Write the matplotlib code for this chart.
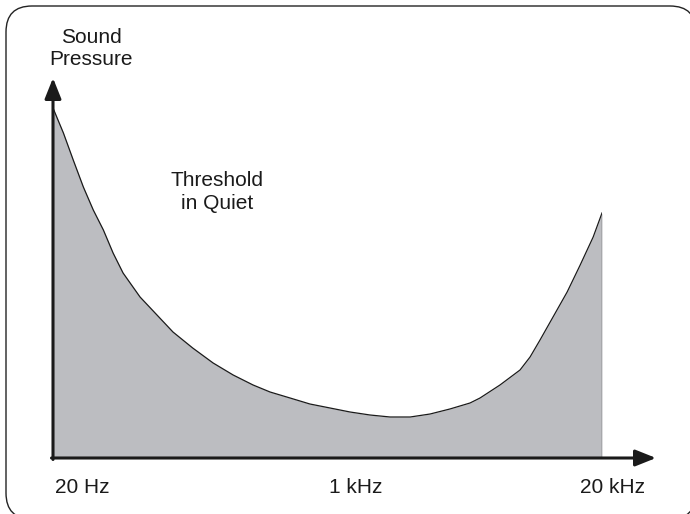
import numpy as np
import matplotlib
matplotlib.use('Agg')
from matplotlib import pyplot as plt
from matplotlib.patches import FancyBboxPatch

plt.rcParams['font.family'] = ['Liberation Sans', 'DejaVu Sans']

# threshold in quiet (level in arbitrary units)
freq_hz = [20, 22.8, 25.8, 29.3, 33.2, 37.7, 42.6, 48.3, 59.8, 74, 90.5,
           116, 150, 193, 248, 307, 395, 507, 653, 840, 1080, 1390, 1790,
           2300, 2950, 3800, 4310, 5540, 7130, 8090, 9170, 10800, 12900,
           15200, 17900, 20000]
level = [350, 325, 298, 271, 248, 228, 205, 185, 161, 143, 126,
         110, 95, 83, 73, 66, 60, 54, 50, 46, 43, 41, 41,
         44, 49, 55, 60, 73, 88, 101, 118, 141, 166,
         193, 221, 245]

tick_labels = ['20 Hz', '1 kHz', '20 kHz']
tick_label_x = [82, 356, 612]   # pixel centres

W, H = 690, 514
fig = plt.figure(figsize=(W/100, H/100), dpi=100)

# rounded frame in display pixels (origin bottom left), runs off right and bottom.
# white face so agg does not clip the curved corners at the canvas edge
frame = FancyBboxPatch((6, H - 519), 690, 513, boxstyle='round,pad=0,rounding_size=26',
                       fc='white', ec='#222222', lw=1.0, transform=None,
                       clip_on=False, zorder=1)
fig.add_artist(frame)

# overlay in pixel coordinates for arrows and text
over = fig.add_axes([0, 0, 1, 1], zorder=3)
over.set_xlim(0, W)
over.set_ylim(H, 0)
over.axis('off')
over.patch.set_alpha(0)

# data axes
ax = fig.add_axes([53/W, (H-458)/H, (602-53)/W, (458-108)/H], zorder=2)
ax.set_xscale('log')
ax.set_xlim(20, 20000)
ax.set_ylim(0, 350)
ax.axis('off')
ax.fill_between(freq_hz, level, 0, color='#bcbdc1', lw=0)
ax.plot(freq_hz, level, color='#1a1a1a', lw=0.9, solid_joinstyle='round')
ax.plot([freq_hz[-1], freq_hz[-1]], [0, level[-1]], color='#555555', lw=1.0)

# axis arrows
arrow = dict(arrowstyle='-|>,head_length=1.25,head_width=0.5', color='#1a1a1a',
             lw=2.2, mutation_scale=10, shrinkA=0, shrinkB=0)
over.annotate('', xy=(53, 78), xytext=(53, 459.5), arrowprops=arrow)
over.annotate('', xy=(656, 458), xytext=(51.5, 458), arrowprops=arrow)

over.text(91, 28, 'Sound\nPressure', ha='center', va='top', fontsize=15,
          linespacing=1.23, color='#1a1a1a')
over.text(217, 171, 'Threshold\nin Quiet', ha='center', va='top', fontsize=15,
          linespacing=1.25, color='#1a1a1a')
for x, lab in zip(tick_label_x, tick_labels):
    over.text(x, 493, lab, ha='center', va='baseline', fontsize=15, color='#1a1a1a')

fig.savefig('out.png', dpi=100)
plt.close('all')
